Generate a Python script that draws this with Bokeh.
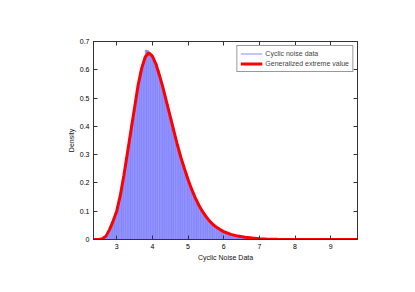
import numpy as np
from bokeh.plotting import figure
from bokeh.models import (LinearAxis, FixedTicker, CustomJSTickFormatter, Legend, LegendItem, Range1d)
from bokeh.embed import file_html
from bokeh.resources import INLINE

# histogram (density), bin width 0.05 starting at 2.6
bin_start = 2.6
bin_width = 0.05
bar_heights = [0.004, 0.010, 0.015, 0.030, 0.040, 0.060, 0.072, 0.095, 0.110, 0.145,
               0.170, 0.212, 0.240, 0.290, 0.330, 0.360, 0.410, 0.440, 0.490, 0.530,
               0.555, 0.595, 0.620, 0.632, 0.670, 0.668, 0.660, 0.655, 0.635, 0.628,
               0.620, 0.598, 0.565, 0.548, 0.515, 0.500, 0.478, 0.440, 0.430, 0.395,
               0.368, 0.350, 0.318, 0.300, 0.275, 0.258, 0.238, 0.218, 0.200, 0.188,
               0.168, 0.152, 0.140, 0.130, 0.112, 0.108, 0.092, 0.088, 0.075, 0.070,
               0.060, 0.058, 0.048, 0.046, 0.040, 0.036, 0.034, 0.028, 0.026, 0.025,
               0.021, 0.020, 0.018, 0.015, 0.013, 0.012, 0.011, 0.010, 0.009, 0.008,
               0.007, 0.007, 0.006, 0.005, 0.005, 0.004, 0.004, 0.003, 0.003, 0.003,
               0.002, 0.002, 0.002, 0.002, 0.001, 0.001, 0.001, 0.001]

# fitted generalized extreme value density
fit_x = [2.35, 2.4, 2.5, 2.6, 2.7, 2.8, 2.9, 3.0, 3.1, 3.2, 3.3, 3.4, 3.5, 3.6, 3.7, 3.8,
         3.9, 4.0, 4.1, 4.2, 4.3, 4.4, 4.5, 4.6, 4.7, 4.8, 4.9, 5.0, 5.1, 5.2, 5.3, 5.4,
         5.5, 5.6, 5.7, 5.8, 5.9, 6.0, 6.2, 6.4, 6.6, 6.8, 7.0, 7.2, 7.5, 8.0, 9.0, 9.75]
fit_y = [0.0, 0.0, 0.0, 0.003, 0.012, 0.035, 0.065, 0.100, 0.155, 0.225, 0.305, 0.385,
         0.465, 0.545, 0.605, 0.645, 0.660, 0.648, 0.620, 0.580, 0.535, 0.485, 0.435,
         0.385, 0.335, 0.290, 0.250, 0.212, 0.178, 0.148, 0.122, 0.100, 0.082, 0.066,
         0.053, 0.043, 0.035, 0.028, 0.018, 0.012, 0.008, 0.005, 0.003, 0.002, 0.001,
         0.0, 0.0, 0.0]

x_ticks = [3, 4, 5, 6, 7, 8, 9]
y_ticks = [0, 0.1, 0.2, 0.3, 0.4, 0.5, 0.6, 0.7]

centers = bin_start + bin_width * (np.arange(len(bar_heights)) + 0.5)

FONT = "Liberation Sans"
FS = "7px"

p = figure(width=407, height=284, output_backend="svg", toolbar_location=None,
           x_range=Range1d(2.35, 9.75), y_range=Range1d(0, 0.7),
           x_axis_location=None, y_axis_location=None)
p.min_border_left = 93
p.min_border_right = 50
p.min_border_top = 41
p.min_border_bottom = 45
p.xgrid.visible = False
p.ygrid.visible = False
p.outline_line_color = "#333333"
p.outline_line_width = 1
p.background_fill_color = "white"
p.border_fill_color = "white"

bars = p.vbar(x=centers, top=bar_heights, width=bin_width, bottom=0,
              fill_color="#9d9dff", line_color="#4444ff", line_width=0.3)
fit = p.line(fit_x, fit_y, line_color="#ff0000", line_width=3)

fmt = CustomJSTickFormatter(code="return tick.toString();")

def mk_axis(cls_pos, ticks, labels=True, label=None):
    ax = LinearAxis(ticker=FixedTicker(ticks=ticks), formatter=fmt)
    ax.major_tick_in = 4
    ax.major_tick_out = 0
    ax.minor_tick_line_color = None
    ax.axis_line_color = "#333333"
    ax.major_tick_line_color = "#333333"
    ax.major_label_text_font = FONT
    ax.major_label_text_font_size = FS
    ax.major_label_text_color = "black"
    ax.major_label_standoff = 4
    if not labels:
        ax.major_label_text_color = None
        ax.major_label_text_font_size = "1px"
        ax.major_label_standoff = 0
    if label:
        ax.axis_label = label
        ax.axis_label_text_font = FONT
        ax.axis_label_text_font_size = FS
        ax.axis_label_text_font_style = "normal"
        ax.axis_label_text_color = "#111111"
        ax.axis_label_standoff = 2
    p.add_layout(ax, cls_pos)
    return ax

mk_axis("below", x_ticks, True, "Cyclic Noise Data")
mk_axis("left", y_ticks, True, "Density")
mk_axis("above", x_ticks, False)
mk_axis("right", y_ticks, False)

# legend proxies placed outside the visible range
h1 = p.line([100, 101], [5, 5], line_color="#8888ff", line_width=1)
h2 = p.line([100, 101], [5, 5], line_color="#ff0000", line_width=3)
legend = Legend(items=[LegendItem(label="Cyclic noise data", renderers=[h1]),
                       LegendItem(label="Generalized extreme value", renderers=[h2])],
                location="top_right")
legend.label_text_font = FONT
legend.label_text_font_size = FS
legend.label_height = 9
legend.glyph_height = 9
legend.glyph_width = 22
legend.label_standoff = 3
legend.spacing = 1
legend.padding = 3
legend.margin = 4
legend.border_line_color = "#333333"
legend.border_line_width = 1
legend.background_fill_alpha = 1
p.add_layout(legend)

open("out.html", "w").write(file_html(p, INLINE))
